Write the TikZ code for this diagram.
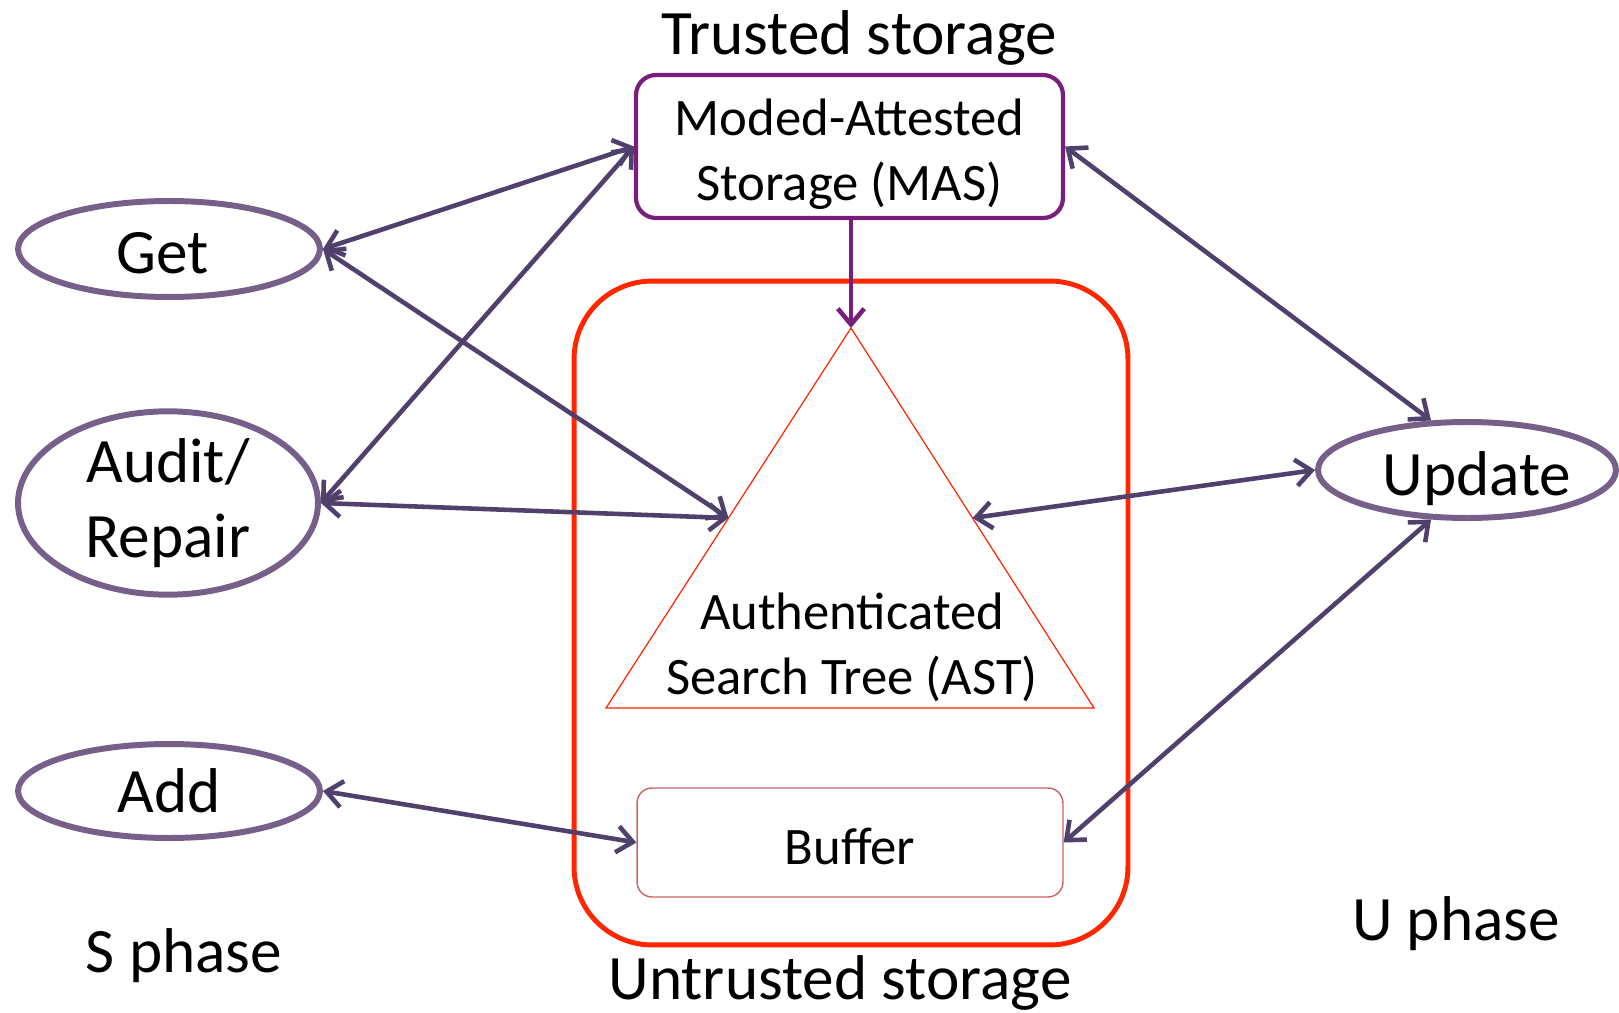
\documentclass[tikz,border=0pt]{standalone}
\usepackage{fontspec}
\setmainfont{Carlito}
\usetikzlibrary{shapes.geometric,arrows.meta,calc}

\definecolor{OpLine}{RGB}{118,96,138}
\definecolor{LinkLine}{RGB}{80,64,108}
\definecolor{MasLine}{RGB}{122,30,126}
\definecolor{StoreRed}{RGB}{255,38,0}
\definecolor{BufLine}{RGB}{205,100,100}

% lower a text inside its node without changing the box
\newcommand{\sinkby}[2]{\raisebox{-#1}[\height][\depth]{#2}}

\begin{document}
\begin{tikzpicture}[
x=0.02cm, y=-0.02cm,
op/.style={ellipse, draw=OpLine, line width=3.4pt, inner sep=0pt, align=center, font=\fontsize{36}{43}\selectfont},
mas/.style={draw=MasLine, line width=2.4pt, rounded corners=0.4cm, minimum width=8.54cm, minimum height=2.86cm, font=\fontsize{30}{37}\selectfont},
buf/.style={draw=BufLine, line width=0.8pt, rounded corners=0.3cm, minimum width=8.52cm, minimum height=2.18cm, font=\fontsize{30}{37}\selectfont},
title/.style={font=\fontsize{36}{43}\selectfont},
arrow/.style={{Straight Barb[length=9pt,width=15pt]}-{Straight Barb[length=9pt,width=15pt]}, line width=2.6pt, LinkLine},
down/.style={-{Straight Barb[length=9pt,width=15pt]}, line width=2.6pt, MasLine}
]
\useasboundingbox (0,0) rectangle (1619,1013);

% storage
\node[draw=StoreRed, line width=2.8pt, rounded corners=1.56cm, minimum width=11.08cm, minimum height=13.28cm] (untrusted) at (851,613) {};
\node[mas] (mas) at (849.5,146.5) {\sinkby{0.18cm}{\begin{tabular}{@{}c@{}}Moded-Attested\\Storage (MAS)\end{tabular}}};
\node[buf] (buffer) at (850,842.5) {\sinkby{0.08cm}{Buffer}};
\node[title] (trusted) at (859,38) {Trusted storage};
\node[title] (untrustedlabel) at (840,983) {Untrusted storage};

% search tree
\coordinate (apex) at (851,328);
\coordinate (baseL) at (606,708);
\coordinate (baseR) at (1094,708);
\coordinate (astL) at ($(apex)!0.5!(baseL)$);
\coordinate (astR) at ($(apex)!0.5!(baseR)$);
\draw[StoreRed, line width=0.7pt] (apex) -- (baseL) -- (baseR) -- cycle;
\node[align=center, font=\fontsize{30}{37}\selectfont] (ast) at (852,647) {Authenticated\\Search Tree (AST)};

% operations
\node[op, minimum width=6.04cm, minimum height=1.92cm] (get) at (169,249) {\sinkby{0.08cm}{\hspace*{-0.24cm}Get}};
\node[op, minimum width=6.0cm, minimum height=3.2cm] (audit) at (168,503) {Audit/\\Repair};
\node[op, minimum width=6.04cm, minimum height=1.88cm] (add) at (169,791) {Add};
\node[op, minimum width=5.96cm, minimum height=1.92cm] (update) at (1467,470) {\sinkby{0.18cm}{\hspace*{0.4cm}Update}};
\node[title] (sphase) at (184,956) {S phase};
\node[title] (uphase) at (1456,924) {U phase};

% links
\draw[down] (mas.south -| apex) -- (apex);
\draw[arrow] (get.east) -- (mas.west);
\draw[arrow] (get.east) -- (astL);
\draw[arrow] (audit.east) -- (mas.west);
\draw[arrow] (audit.east) -- (astL);
\draw[arrow] (add.east) -- (buffer.west);
\draw[arrow] (mas.east) -- (update.126);
\draw[arrow] (astR) -- (update.west);
\draw[arrow] (buffer.east) -- (update.234);
\end{tikzpicture}
\end{document}
